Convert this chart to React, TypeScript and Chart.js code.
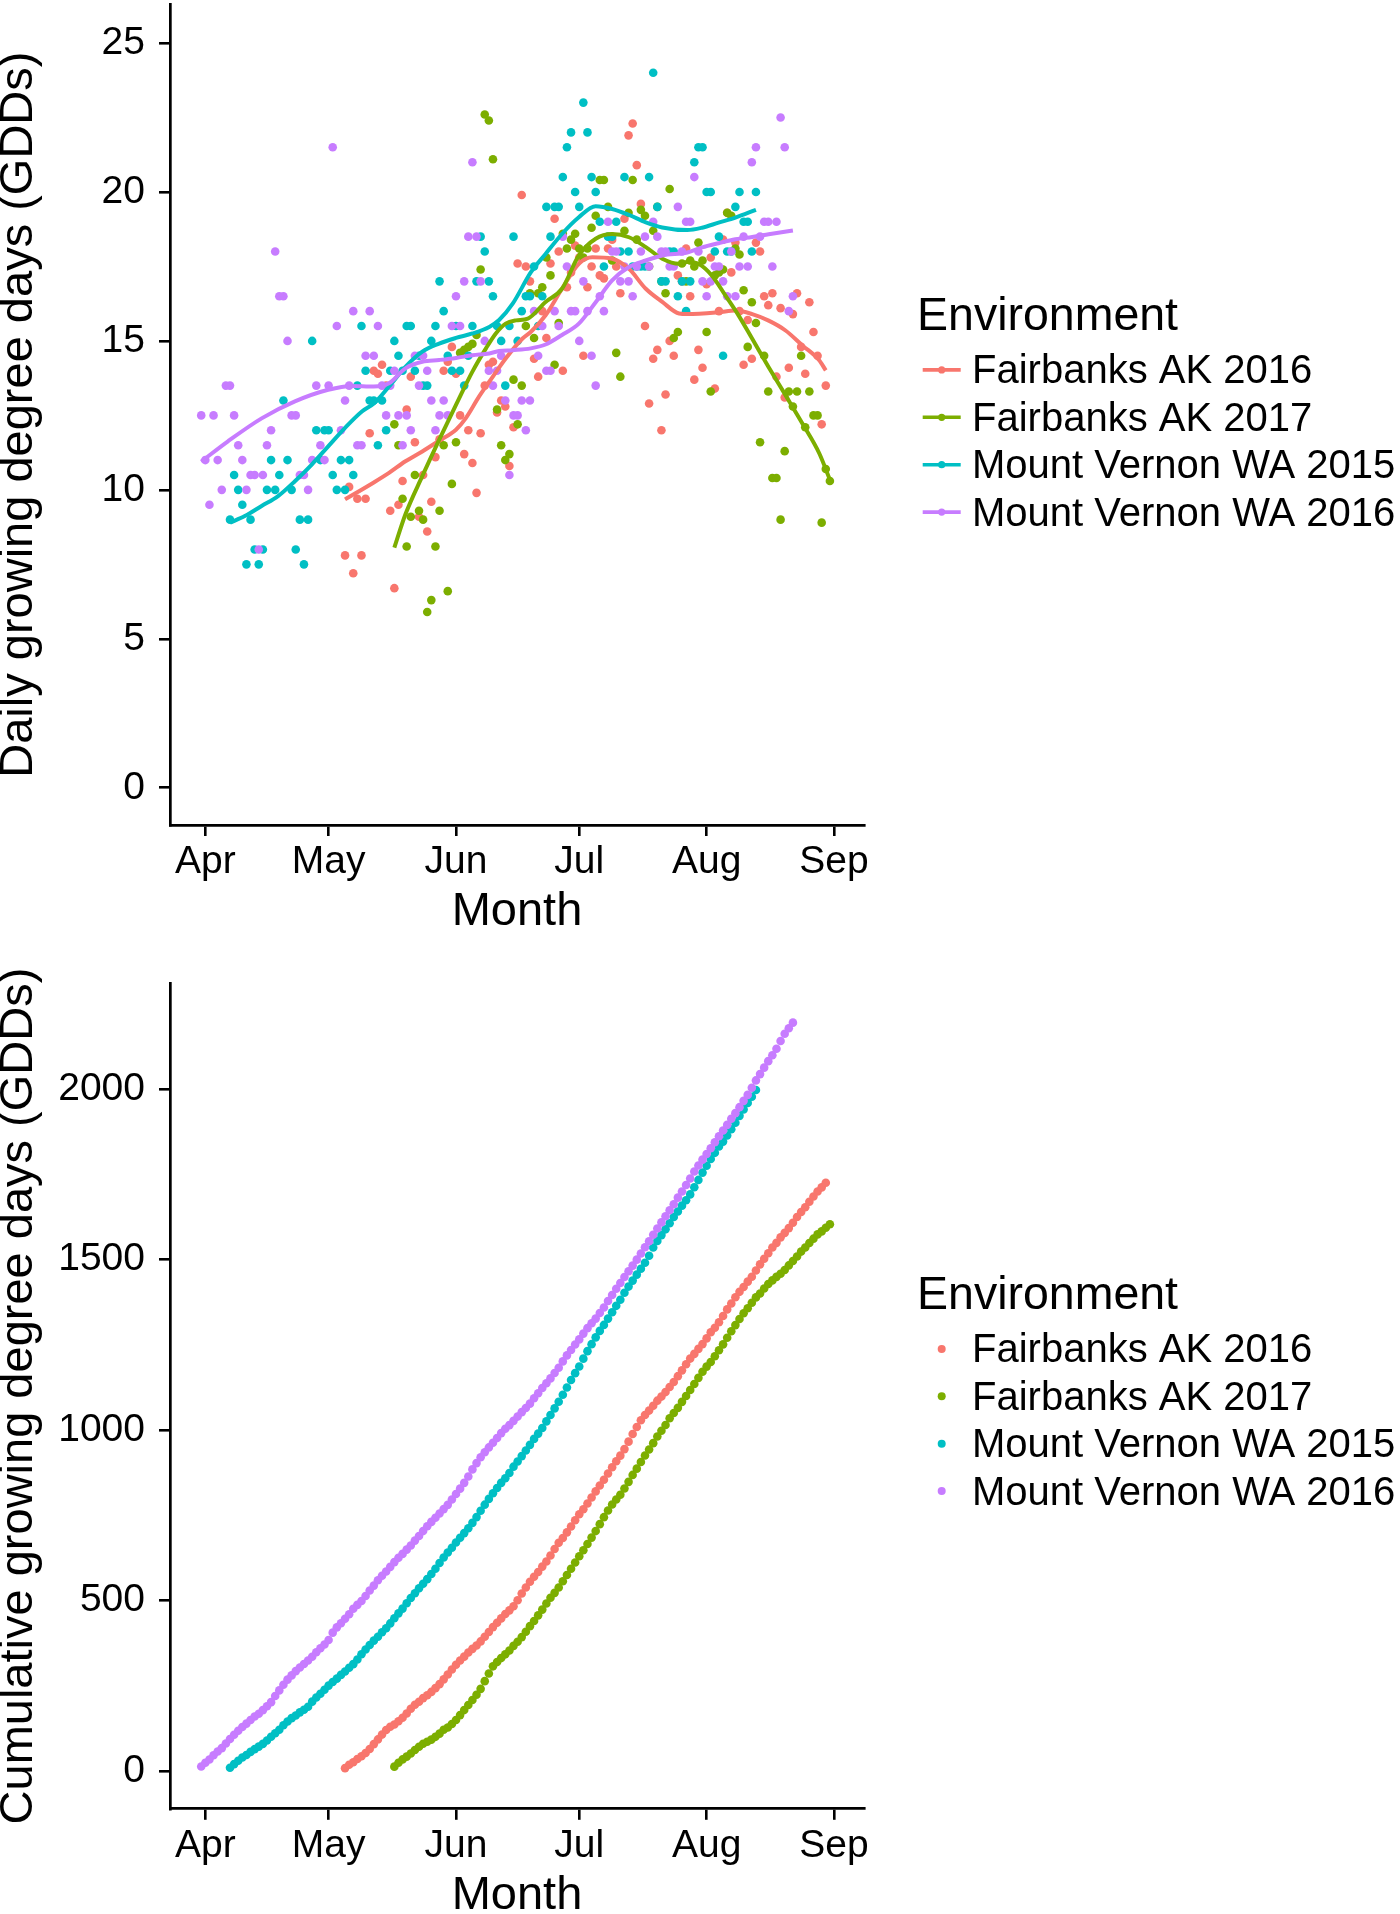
import React, { useEffect, useRef } from 'react';
import { Chart, registerables } from 'chart.js';

Chart.register(...registerables);

const FONT = '"Liberation Sans", Arimo, Arial, Helvetica, sans-serif';

// ---- categories / ticks ----
const SERIES_NAMES = ['Fairbanks AK 2016', 'Fairbanks AK 2017', 'Mount Vernon WA 2015', 'Mount Vernon WA 2016'];
const SERIES_COLORS = ['#F8766D', '#7CAE00', '#00BFC4', '#C77CFF'];
// x values are days after 1 April
const MONTH_TICKS = [0, 30, 61, 91, 122, 153];
const MONTH_LABELS = ['Apr', 'May', 'Jun', 'Jul', 'Aug', 'Sep'];
const DAILY_TICKS = [0, 5, 10, 15, 20, 25];
const CUMULATIVE_TICKS = [0, 500, 1000, 1500, 2000];

// ---- daily growing degree days (one value per consecutive day from *_START) ----
const FB2016_START = 34;
const FB2016_GDD = [
  7.8, 10.1, 7.2, 9.7, 7.8, 9.7, 11.9,
  14.0, 13.9, 14.2, 13.5, 9.3, 6.7, 9.5, 10.3, 12.7, 13.8,
  11.6, 9.1, 10.5, 8.6, 9.6, 11.1, 11.7, 14.0, 14.3, 14.8,
  13.9, 12.5, 11.2, 12.0, 10.9, 9.9, 11.9, 13.5, 14.2, 14.3,
  12.6, 13.0, 12.8, 10.8, 12.1, 17.6, 19.9, 17.5, 17.0, 14.4,
  13.8, 16.0, 15.1, 17.6, 19.1, 18.0, 14.0, 16.8, 17.3, 18.2,
  17.8, 14.5, 16.8, 17.5, 18.1, 17.2, 17.1, 18.1, 18.4, 17.5,
  16.6, 19.1, 21.9, 22.3, 20.9, 19.6, 15.5, 12.9, 14.4, 14.7,
  12.0, 13.2, 15.0, 14.5, 17.2, 17.0, 18.1, 16.5, 13.7, 14.7,
  14.1, 16.9, 17.8, 13.4, 16.0, 18.4, 19.3, 17.3, 18.3, 16.0,
  14.2, 15.7, 14.4, 18.3, 18.0, 16.5, 16.2, 16.6, 13.8, 16.1,
  13.1, 14.1, 15.9, 16.6, 14.8, 13.9, 16.3, 15.3, 14.5, 12.2, 13.5,
];

const FB2017_START = 46;
const FB2017_GDD = [
  12.2, 11.5, 9.7, 8.1, 9.1,
  10.5, 9.3, 9.0, 5.9, 6.3, 8.1, 9.3, 11.5, 6.6, 10.2,
  11.6, 14.6, 14.7, 14.8, 14.9, 15.2, 17.4, 22.6, 22.4, 21.1,
  12.7, 11.5, 11.0, 11.2, 13.7, 12.2, 13.5, 15.5, 16.6, 15.1,
  16.6, 16.8, 17.8, 17.2, 14.2, 15.6, 18.6, 18.1, 18.4, 18.6,
  18.1, 17.8, 18.1, 18.8, 19.2, 20.4, 20.4, 19.5, 17.7, 14.6,
  13.8, 18.7, 19.3, 20.4, 18.4, 19.4, 19.2, 17.5, 18.7, 19.5,
  17.0, 16.6, 20.1, 15.1, 15.3, 17.6, 17.0, 17.7, 17.5, 18.3,
  17.7, 15.3, 13.3, 17.2, 17.3, 17.4, 19.3, 19.2, 18.1, 17.9,
  16.7, 14.8, 16.3, 15.6, 11.6, 14.5, 13.3, 10.4, 10.4, 9.0,
  11.3, 13.3, 12.8, 13.3, 14.5, 12.1, 13.3, 12.5, 12.5, 8.9, 10.7, 10.3,
];

const MV2015_START = 6;
const MV2015_GDD = [
  9.0, 10.5, 10.0, 9.5, 7.5,
  9.0, 8.0, 7.5, 8.0, 10.0, 11.0, 10.0, 10.5, 13.0, 11.0,
  10.0, 8.0, 9.0, 7.5, 9.0, 15.0, 12.0, 11.0, 12.0, 12.0,
  10.5, 10.0, 11.0, 10.0, 11.0, 10.5, 13.5, 15.5, 14.0, 13.0,
  13.0, 11.5, 13.0, 12.0, 14.0, 15.0, 14.5, 14.0, 15.5, 15.5,
  14.0, 14.5, 13.5, 13.5, 15.0, 15.5, 17.0, 16.0, 14.5, 14.0,
  15.5, 14.0, 13.5, 14.5, 15.5, 17.0, 18.5, 18.0, 17.0, 16.5,
  15.5, 15.0, 13.5, 15.5, 18.5, 15.0, 16.0, 16.5, 16.5, 17.5,
  15.5, 16.5, 19.5, 18.5, 19.5, 19.5, 20.5, 21.5, 22.0, 20.0,
  19.5, 23.0, 22.0, 20.5, 20.0, 19.0, 17.5, 18.5, 18.5, 19.0,
  18.0, 20.5, 18.0, 17.5, 17.5, 17.5, 17.5, 20.5, 24.0, 19.5,
  17.0, 17.0, 18.0, 18.0, 16.5, 17.0, 16.0, 17.0, 21.0, 21.5,
  21.5, 20.0, 20.0, 18.0, 18.5, 14.5, 18.0, 18.0, 19.5, 20.0,
  19.0, 19.0, 18.0, 20.0,
];

const MV2016_START = -1;
const MV2016_GDD = [
  12.5, 11.0, 9.5, 12.5, 11.0, 10.0, 13.5, 13.5, 12.5, 11.5, 11.0, 10.0,
  10.5, 10.5, 8.0, 10.5, 11.5, 12.0, 18.0, 16.5, 16.5, 15.0,
  12.5, 12.5, 10.5, 10.5, 10.0, 11.0, 13.5, 11.5, 11.0, 13.5,
  21.5, 15.5, 12.0, 13.0, 13.5, 16.0, 11.5, 11.5, 14.5, 16.0,
  14.5, 15.5, 13.5, 12.5, 13.5, 14.0, 12.5, 11.5, 12.5, 12.0,
  14.5, 13.5, 14.5, 14.0, 13.0, 12.0, 12.5, 13.0, 12.5, 15.5,
  16.5, 15.5, 17.0, 18.5, 21.0, 18.5, 17.0, 15.0, 14.0, 13.5,
  14.0, 14.5, 13.0, 10.5, 12.5, 12.5, 13.0, 12.0, 13.0, 16.0,
  14.5, 15.5, 14.0, 14.0, 16.0, 15.5, 18.5, 17.5, 16.0, 16.0,
  15.0, 17.0, 16.0, 14.5, 13.5, 16.5, 16.0, 19.0, 18.0, 18.0,
  17.0, 17.5, 17.0, 16.5, 17.5, 18.0, 18.5, 17.5, 19.0, 18.5,
  18.0, 18.0, 17.5, 17.5, 19.5, 18.0, 19.0, 19.0, 20.5, 18.0,
  17.0, 16.5, 17.0, 17.5, 17.5, 17.0, 16.5, 18.0, 16.5, 17.5,
  18.5, 17.5, 21.0, 21.5, 18.5, 19.0, 19.0, 17.5, 19.0, 22.5,
  21.5, 16.0, 16.5,
];

// ---- smoothed trend curves ----
const FB2016_SMOOTH_DAY = [34, 41, 44.7, 48.7, 52.8, 56.9, 61, 63.4, 66.6, 69.1, 73.1, 77.2, 79.2, 82.8, 86.8, 90.9, 94.2, 99, 103.1, 107.2, 111.2, 115.3, 117.3, 124.9, 129, 133.1, 137.1, 141.2, 145.3, 149.4, 151];
const FB2016_SMOOTH_GDD = [9.68, 10.25, 10.57, 10.96, 11.29, 11.65, 12.02, 12.41, 13.13, 13.63, 14.41, 15.08, 15.3, 15.86, 16.75, 17.59, 17.81, 17.76, 17.42, 16.75, 16.31, 15.92, 15.9, 15.96, 16.02, 15.9, 15.68, 15.35, 14.85, 14.35, 14.01];

const FB2017_SMOOTH_DAY = [46, 48.7, 52.8, 56.9, 61, 65, 68.3, 70.7, 73.1, 75.6, 78.5, 82.8, 86.8, 90.9, 95, 99, 103.1, 107.2, 111.2, 115.3, 117.3, 120.1, 123.3, 126.6, 129.8, 133.1, 137.1, 141.2, 145.3, 149.4, 152];
const FB2017_SMOOTH_GDD = [8.06, 9.18, 10.46, 11.68, 12.85, 13.97, 14.75, 15.25, 15.58, 15.69, 15.75, 16.31, 16.75, 17.87, 18.43, 18.59, 18.48, 18.15, 17.76, 17.59, 17.65, 17.58, 17.19, 16.52, 15.85, 15.07, 14.12, 13.18, 12.23, 11.23, 10.34];

const MV2015_SMOOTH_DAY = [6, 9.6, 13.7, 17.7, 21.8, 25.9, 29.9, 34, 38.1, 41, 44.7, 48.7, 52.8, 56.9, 61, 65, 69.1, 71.5, 74.8, 79.2, 82.8, 86.8, 90.9, 95, 99, 103.1, 107.2, 111.2, 117.3, 120.9, 124.9, 129, 134];
const MV2015_SMOOTH_GDD = [8.9, 9.12, 9.46, 9.79, 10.29, 10.85, 11.46, 12.08, 12.63, 12.9, 13.47, 14.13, 14.64, 14.91, 15.1, 15.25, 15.47, 15.7, 16.25, 17.3, 17.92, 18.59, 19.15, 19.52, 19.43, 19.23, 18.98, 18.81, 18.72, 18.8, 18.97, 19.14, 19.4];

const MV2016_SMOOTH_DAY = [-1, 5.5, 13.7, 21.8, 29.9, 35.6, 41, 44.7, 48.7, 52.8, 56.9, 61, 65, 69.1, 71.5, 74.8, 79.2, 82.8, 86.8, 90.9, 95, 99, 103.1, 107.2, 111.2, 117.3, 120.9, 124.9, 129, 133.1, 137.1, 143];
const MV2016_SMOOTH_GDD = [10.95, 11.63, 12.4, 12.97, 13.36, 13.49, 13.47, 13.58, 14.08, 14.3, 14.36, 14.43, 14.52, 14.58, 14.66, 14.69, 14.75, 14.88, 15.2, 15.58, 16.3, 17.03, 17.48, 17.7, 17.87, 17.97, 18.14, 18.28, 18.41, 18.49, 18.58, 18.71];

const STARTS = [FB2016_START, FB2017_START, MV2015_START, MV2016_START];
const DAILY = [FB2016_GDD, FB2017_GDD, MV2015_GDD, MV2016_GDD];
const SMOOTH_DAYS = [FB2016_SMOOTH_DAY, FB2017_SMOOTH_DAY, MV2015_SMOOTH_DAY, MV2016_SMOOTH_DAY];
const SMOOTH_GDD = [FB2016_SMOOTH_GDD, FB2017_SMOOTH_GDD, MV2015_SMOOTH_GDD, MV2016_SMOOTH_GDD];

type Pt = { x: number; y: number };

function dailyPoints(start: number, values: number[]): Pt[] {
  return values.map((v, i) => ({ x: start + i, y: v }));
}
function cumulativePoints(start: number, values: number[]): Pt[] {
  let total = 0;
  return values.map((v, i) => {
    total += v;
    return { x: start + i, y: total };
  });
}
function curvePoints(days: number[], values: number[]): Pt[] {
  return days.map((d, i) => ({ x: d, y: values[i] }));
}

const CANVAS_W = 1400;
const PLOT_LEFT = 170;
const PLOT_RIGHT = 864;

function legendPlugin(withLines: boolean) {
  return {
    id: 'envLegend',
    afterDraw(chart: any) {
      const ctx = chart.ctx as CanvasRenderingContext2D;
      const top = chart.chartArea.top;
      ctx.save();
      ctx.textAlign = 'left';
      ctx.textBaseline = 'alphabetic';
      ctx.fillStyle = '#000';
      ctx.font = `46.5px ${FONT}`;
      ctx.fillText('Environment', 917, top + 326);
      SERIES_NAMES.forEach((name, i) => {
        const cy = top + 365.6 + i * 47.4;
        const color = SERIES_COLORS[i];
        if (withLines) {
          ctx.strokeStyle = color;
          ctx.lineWidth = 3.6;
          ctx.beginPath();
          ctx.moveTo(922.7, cy);
          ctx.lineTo(960.7, cy);
          ctx.stroke();
        }
        ctx.fillStyle = color;
        ctx.beginPath();
        ctx.arc(941.7, cy, withLines ? 3.6 : 4, 0, Math.PI * 2);
        ctx.fill();
        ctx.fillStyle = '#000';
        ctx.font = `40px ${FONT}`;
        ctx.fillText(name, 972, cy + 13.5);
      });
      ctx.restore();
    },
  };
}

function axisCommon() {
  return {
    grid: { drawOnChartArea: false, drawTicks: true, tickLength: 11, color: '#000', lineWidth: 2.6 },
    border: { display: true, color: '#000', width: 2.7 },
  };
}

function buildConfig(kind: 'daily' | 'cumulative', canvasH: number, top: number, bottom: number, monthPad: number) {
  const isDaily = kind === 'daily';
  const datasets: any[] = [];
  if (isDaily) {
    for (let s = 3; s >= 0; s--) {
      datasets.push({
        label: SERIES_NAMES[s] + ' trend',
        data: curvePoints(SMOOTH_DAYS[s], SMOOTH_GDD[s]),
        showLine: true,
        borderColor: SERIES_COLORS[s],
        backgroundColor: SERIES_COLORS[s],
        borderWidth: 4,
        pointRadius: 0,
        cubicInterpolationMode: 'monotone',
        fill: false,
        order: 3 - s,
      });
    }
  }
  for (let s = 3; s >= 0; s--) {
    datasets.push({
      label: SERIES_NAMES[s],
      data: isDaily ? dailyPoints(STARTS[s], DAILY[s]) : cumulativePoints(STARTS[s], DAILY[s]),
      showLine: false,
      backgroundColor: SERIES_COLORS[s],
      borderColor: SERIES_COLORS[s],
      pointBackgroundColor: SERIES_COLORS[s],
      pointBorderWidth: 0,
      pointRadius: 4.3,
      order: 10 + (3 - s),
    });
  }
  const yTicks = isDaily ? DAILY_TICKS : CUMULATIVE_TICKS;
  return {
    type: 'scatter' as const,
    data: { datasets },
    plugins: [legendPlugin(isDaily)],
    options: {
      animation: false as const,
      responsive: false,
      devicePixelRatio: 1,
      events: [],
      layout: { padding: { left: 0, top, right: CANVAS_W - PLOT_RIGHT, bottom: 0 } },
      plugins: { legend: { display: false }, tooltip: { enabled: false }, title: { display: false } },
      scales: {
        x: {
          type: 'linear' as const,
          min: -8.6,
          max: 160.3,
          afterBuildTicks: (scale: any) => {
            scale.ticks = MONTH_TICKS.map((v) => ({ value: v }));
          },
          afterFit: (scale: any) => {
            scale.height = canvasH - bottom;
            scale.paddingLeft = 0;
            scale.paddingRight = 0;
            scale.paddingTop = 0;
            scale.paddingBottom = 0;
          },
          ticks: {
            autoSkip: false,
            maxRotation: 0,
            minRotation: 0,
            padding: 3,
            color: '#000',
            font: { family: FONT, size: 39 },
            callback: (v: any) => MONTH_LABELS[MONTH_TICKS.indexOf(Number(v))],
          },
          title: {
            display: true,
            text: 'Month',
            color: '#000',
            font: { family: FONT, size: 47, lineHeight: 0.5 },
            padding: { top: 0, bottom: monthPad },
          },
          ...axisCommon(),
        },
        y: {
          type: 'linear' as const,
          min: isDaily ? -1.25 : -111.5,
          max: isDaily ? 26.3 : 2311,
          afterBuildTicks: (scale: any) => {
            scale.ticks = yTicks.map((v) => ({ value: v }));
          },
          afterFit: (scale: any) => {
            scale.width = PLOT_LEFT;
            scale.paddingTop = 0;
            scale.paddingBottom = 0;
            scale.paddingLeft = 0;
            scale.paddingRight = 0;
          },
          ticks: {
            padding: 14,
            color: '#000',
            font: { family: FONT, size: 39 },
            callback: (v: any) => String(v),
          },
          title: {
            display: true,
            text: isDaily ? 'Daily growing degree days (GDDs)' : 'Cumulative growing degree days (GDDs)',
            color: '#000',
            font: { family: FONT, size: 47, lineHeight: 0.5 },
            padding: { top: 6.9, bottom: 0 },
          },
          ...axisCommon(),
        },
      },
    },
  };
}

const TOP_H = 955;
const BOTTOM_H = 959;

export default function App() {
  const topRef = useRef<HTMLCanvasElement | null>(null);
  const bottomRef = useRef<HTMLCanvasElement | null>(null);

  useEffect(() => {
    Chart.defaults.font.family = FONT;
    const charts: Chart[] = [];
    if (topRef.current) {
      charts.push(new Chart(topRef.current, buildConfig('daily', TOP_H, 2, 825, 31.2) as any));
    }
    if (bottomRef.current) {
      charts.push(new Chart(bottomRef.current, buildConfig('cumulative', BOTTOM_H, 28.3, 853.8, 6.4) as any));
    }
    return () => {
      charts.forEach((c) => c.destroy());
    };
  }, []);

  return (
    <div style={{ position: 'absolute', left: 0, top: 0, width: CANVAS_W, height: TOP_H + BOTTOM_H, background: '#fff', overflow: 'hidden' }}>
      <canvas
        ref={topRef}
        width={CANVAS_W}
        height={TOP_H}
        style={{ position: 'absolute', left: 0, top: 0, width: CANVAS_W, height: TOP_H }}
      />
      <canvas
        ref={bottomRef}
        width={CANVAS_W}
        height={BOTTOM_H}
        style={{ position: 'absolute', left: 0, top: TOP_H, width: CANVAS_W, height: BOTTOM_H }}
      />
    </div>
  );
}
